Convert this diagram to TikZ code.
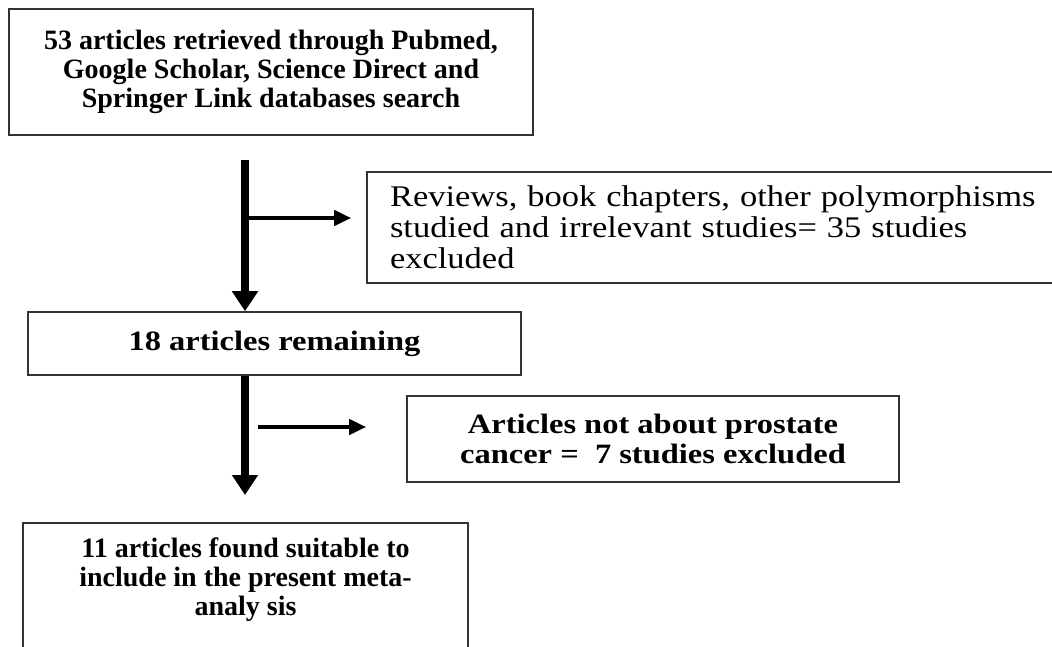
\documentclass[tikz,border=0pt]{standalone}
\usepackage{fontspec}
\setmainfont{Liberation Serif}
\newfontfamily\widefont[FakeStretch=1.16]{Liberation Serif}
\newfontfamily\revfont[FakeStretch=1.15]{Liberation Serif}
\usetikzlibrary{arrows.meta,calc}
\begin{document}
\begin{tikzpicture}[x=1pt,y=-1pt,
  box/.style={draw=black!80,line width=1.6pt,rectangle,inner sep=0pt,align=center,font=\fontsize{28}{29}\selectfont\bfseries},
  widebox/.style={box,font=\widefont\fontsize{28}{30}\selectfont\bfseries},
  bigarrow/.style={line width=8pt,-{Triangle[width=25pt,length=20pt]}},
  smallarrow/.style={line width=4pt,-{Triangle[width=15pt,length=17pt]}}]
\useasboundingbox (0,0) rectangle (1052,647);
\begin{scope}
\clip (0,0) rectangle (1052,647);
\node[box,minimum width=524pt,minimum height=126pt] (box1) at (271,72)
  {53 articles retrieved through Pubmed,\\Google Scholar, Science Direct and\\Springer Link databases search};
\node[box,minimum width=693pt,minimum height=111pt,text width=647pt,align=left,inner xsep=23pt,
  font=\revfont\fontsize{30}{31}\selectfont] (box2) at (713.5,227.5)
  {Reviews, book chapters, other polymorphisms\\studied and irrelevant studies= 35 studies\\excluded};
\node[widebox,minimum width=493pt,minimum height=63pt] (box3) at (274.5,343.5) {18 articles remaining};
\node[widebox,minimum width=492pt,minimum height=86pt] (box4) at (653,439)
  {Articles not about prostate\\cancer =\ \ 7 studies excluded};
\node[box,minimum width=445pt,minimum height=148pt,anchor=north] (box5) at (245.5,522) {};
\node[align=center,anchor=north,inner sep=0pt,font=\fontsize{28}{29}\selectfont\bfseries] (t5) at ($(box5.north)+(0,16)$)
  {11 articles found suitable to\\include in the present meta-\\analy sis};
\end{scope}
\coordinate (a1s) at (245,160);
\coordinate (b1) at (245,218);
\coordinate (b2s) at (258,427);
\coordinate (a2e) at (245,495);
\draw[bigarrow] (a1s) -- (a1s |- box3.north);
\draw[smallarrow] (b1) -- ($(b1 -| box2.west)+(-15,0)$);
\draw[bigarrow] (box3.south -| a1s) -- (a2e);
\draw[smallarrow] (b2s) -- ($(b2s -| box4.west)+(-40,0)$);
\end{tikzpicture}
\end{document}
